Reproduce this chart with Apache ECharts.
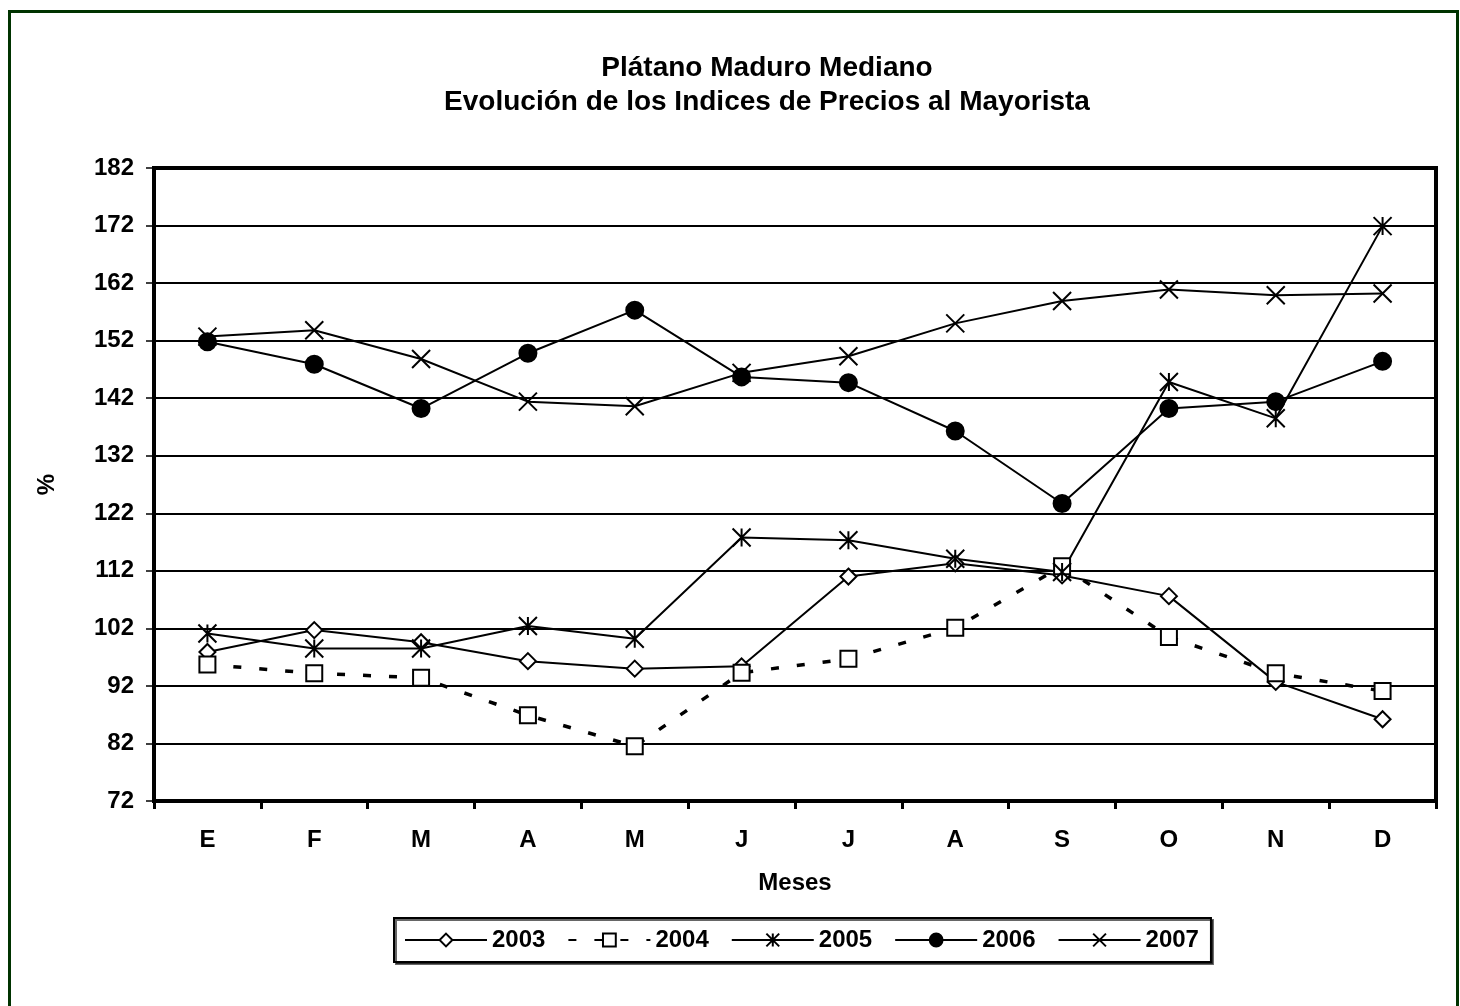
<!DOCTYPE html>
<html>
<head>
<meta charset="utf-8">
<title>Plátano Maduro Mediano</title>
<script src="https://cdn.jsdelivr.net/npm/echarts@6/dist/echarts.min.js"></script>
<style>
    html, body { margin: 0; padding: 0; background: #fff; }
    #frame {
        position: absolute; left: 8px; top: 10px;
        width: 1451px; height: 1100px;
        border: 3px solid #003300;
        box-sizing: border-box;
    }
    #chart { position: absolute; left: 0; top: 0; width: 1460px; height: 1006px; }
</style>
</head>
<body>
<div id="frame"></div>
<div id="chart"></div>
<script>
// 月份（类别）
const months = ['E', 'F', 'M', 'A', 'M', 'J', 'J', 'A', 'S', 'O', 'N', 'D'];

// 各年度指数
const idx2003 = [97.9, 101.7, 99.6, 96.3, 95.0, 95.4, 111.0, 113.3, 111.2, 107.6, 92.7, 86.2];
const idx2004 = [95.7, 94.2, 93.4, 86.9, 81.5, 94.3, 96.7, 102.1, 112.8, 100.5, 94.2, 91.1];
const idx2005 = [101.1, 98.5, 98.5, 102.4, 100.2, 117.8, 117.3, 114.1, 111.8, 144.8, 138.5, 171.9];
const idx2006 = [151.8, 147.9, 140.2, 149.8, 157.3, 145.7, 144.7, 136.3, 123.7, 140.2, 141.4, 148.4];
const idx2007 = [152.7, 153.8, 148.8, 141.4, 140.6, 146.4, 149.3, 155.0, 158.9, 160.9, 159.9, 160.2];

// 坐标轴刻度
const yMin = 72;
const yMax = 182;
const yStep = 10;

const font = 'Liberation Sans, Arial, sans-serif';

// 自定义标记
const xMark = 'path://M0,0L10,10M10,0L0,10';
const starMark = 'path://M0,0L10,10M10,0L0,10M5,0L5,10';

function makeSeries(name, data, symbol, opts) {
    return Object.assign({
        name: name,
        type: 'line',
        data: data,
        symbol: symbol,
        symbolSize: 16,
        showAllSymbol: true,
        animation: false,
        lineStyle: { color: '#000', width: 2 },
        itemStyle: { color: '#000', borderColor: '#000', borderWidth: 2 }
    }, opts || {});
}

const chart = echarts.init(document.getElementById('chart'));

const option = {
    backgroundColor: 'transparent',
    title: {
        text: 'Plátano Maduro Mediano\nEvolución de los Indices de Precios al Mayorista',
        left: 762,
        top: 46,
        textAlign: 'center',
        textStyle: {
            fontFamily: font,
            fontSize: 28,
            fontWeight: 'bold',
            color: '#000',
            lineHeight: 34
        }
    },
    legend: {
        left: 394,
        top: 918,
        itemWidth: 82,
        itemHeight: 16,
        itemGap: 22,
        padding: [10, 12, 10, 10],
        borderColor: '#000',
        borderWidth: 2,
        backgroundColor: '#fff',
        shadowColor: 'rgba(0,0,0,0.6)',
        shadowOffsetX: 2,
        shadowOffsetY: 2,
        textStyle: {
            fontFamily: font,
            fontSize: 24,
            fontWeight: 'bold',
            color: '#000'
        },
        data: ['2003', '2004', '2005', '2006', '2007']
    },
    grid: {
        left: 154,
        right: 24,
        top: 168,
        bottom: 205,
        show: true,
        borderColor: '#000',
        borderWidth: 4,
        backgroundColor: '#fff'
    },
    xAxis: {
        type: 'category',
        data: months,
        boundaryGap: true,
        name: 'Meses',
        nameLocation: 'middle',
        nameGap: 70,
        nameTextStyle: { fontFamily: font, fontSize: 24, fontWeight: 'bold', color: '#000' },
        axisLine: { lineStyle: { color: '#000', width: 4 } },
        axisTick: { show: true, length: 8, lineStyle: { color: '#000', width: 3 } },
        axisLabel: {
            margin: 27,
            fontFamily: font,
            fontSize: 24,
            fontWeight: 'bold',
            color: '#000'
        },
        splitLine: { show: false }
    },
    yAxis: {
        type: 'value',
        min: yMin,
        max: yMax,
        interval: yStep,
        name: '%',
        nameLocation: 'middle',
        nameGap: 95,
        nameRotate: 90,
        nameTextStyle: { fontFamily: font, fontSize: 24, fontWeight: 'bold', color: '#000' },
        axisLine: { show: true, lineStyle: { color: '#000', width: 4 } },
        axisTick: { show: true, length: 8, lineStyle: { color: '#000', width: 1.5 } },
        axisLabel: {
            margin: 20,
            fontFamily: font,
            fontSize: 24,
            fontWeight: 'bold',
            color: '#000'
        },
        splitLine: { show: true, lineStyle: { color: '#000', width: 2 } }
    },
    series: [
        makeSeries('2003', idx2003, 'emptyDiamond'),
        makeSeries('2004', idx2004, 'emptyRect', {
            lineStyle: { color: '#000', width: 3.5, type: [8, 18] }
        }),
        makeSeries('2005', idx2005, starMark, { symbolSize: 18 }),
        makeSeries('2006', idx2006, 'circle', { symbolSize: 17 }),
        makeSeries('2007', idx2007, xMark, { symbolSize: 18 })
    ]
};

chart.setOption(option);

window.addEventListener('resize', function () {
    chart.resize();
});
</script>
</body>
</html>
